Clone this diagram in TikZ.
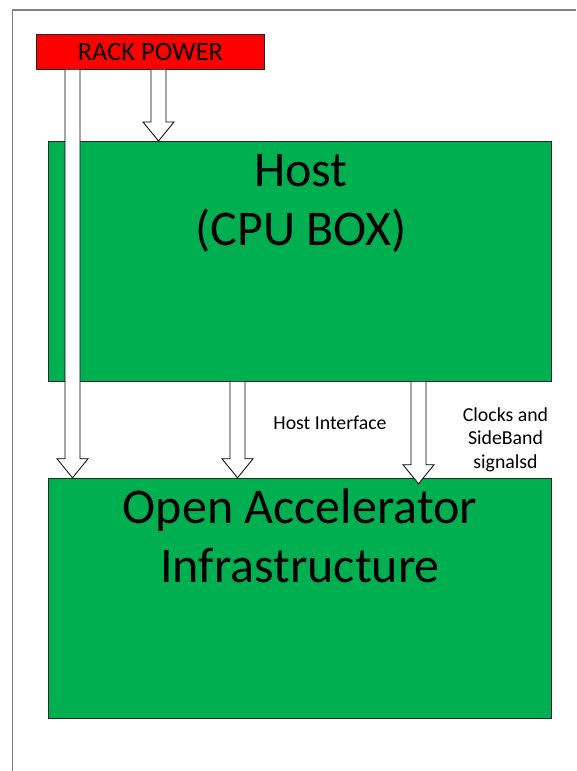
\documentclass[tikz,border=0pt]{standalone}
\usepackage{fontspec}
\setmainfont{Carlito}
\usetikzlibrary{calc,positioning}
\definecolor{boxgreen}{HTML}{00B050}
\definecolor{rackred}{HTML}{FF0000}
\tikzset{
  unitbox/.style   = {shape=rectangle, draw=black!85, line width=0.8pt,
                      fill=boxgreen, inner sep=0pt},
  rackbox/.style   = {unitbox, fill=rackred, font=\fontsize{26.5}{30}\selectfont},
  bigtext/.style   = {align=center, inner sep=0pt, font=\fontsize{50}{59}\selectfont},
  smalltext/.style = {align=center, inner sep=0pt, font=\fontsize{19.8}{23.5}\selectfont},
  barrow/.style    = {draw=black, fill=white, line width=0.8pt, line join=miter}
}
\newcommand{\blockarrow}[2]{%
  \path[barrow] let \p1=(#1), \p2=(#2) in
    (\x1-7.5pt,\y1) -- (\x1-7.5pt,\y2+19pt) -- (\x1-15.5pt,\y2+19pt) --
    (\x1,\y2) -- (\x1+15.5pt,\y2+19pt) -- (\x1+7.5pt,\y2+19pt) -- (\x1+7.5pt,\y1);}
\begin{document}
\begin{tikzpicture}[x=1pt,y=-1pt]
\useasboundingbox (0,0) rectangle (576,771);
% outer frame
\draw[black!50, line width=1.2pt] (12.5,771) -- (12.5,10) -- (576,10);
% boxes
\node[rackbox, minimum width=228pt, minimum height=35pt, anchor=north west]
  (rack) at (36,34) {RACK POWER};
\node[unitbox, minimum width=503pt, minimum height=240pt, anchor=north west]
  (host) at (48,141) {};
\node[unitbox, minimum width=503pt, minimum height=240pt, below=96pt of host]
  (oai) {};
% texts (base = last line)
\node[bigtext, anchor=base] (hosttxt) at (301,245) {Host\\(CPU BOX)};
\node[bigtext, anchor=base] (oaitxt) at (300,582) {Open Accelerator\\Infrastructure};
\node[smalltext, anchor=base] (ifacetxt) at (330,429) {Host Interface};
\node[smalltext, anchor=base] (clktxt) at (505.5,468) {Clocks and\\SideBand\\signalsd};
% arrows
\coordinate (c1) at (72.5,0);
\coordinate (c2) at (158.5,0);
\coordinate (c3) at (237.5,0);
\coordinate (c4) at (418.5,0);
\blockarrow{rack.south -| c1}{oai.north -| c1}
\blockarrow{rack.south -| c2}{host.north -| c2}
\blockarrow{host.south -| c3}{oai.north -| c3}
\blockarrow{host.south -| c4}{$(oai.north -| c4)+(0,6)$}
\end{tikzpicture}
\end{document}
